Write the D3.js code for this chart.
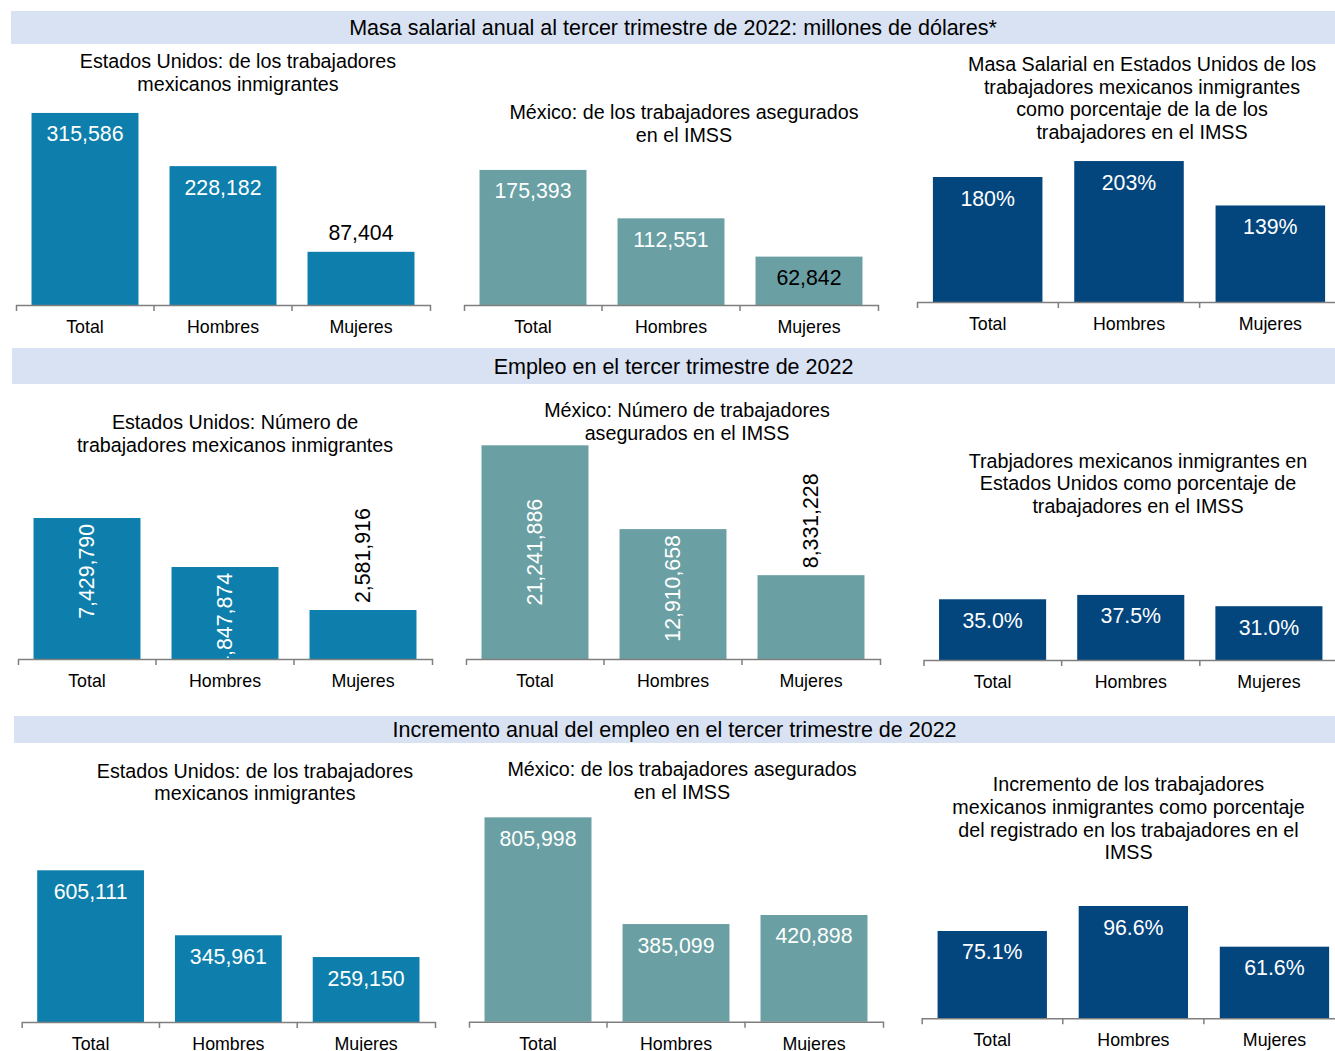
<!DOCTYPE html>
<html lang="es">
<head>
    <meta charset="utf-8">
    <title>Masa salarial y empleo - tercer trimestre 2022</title>
    <script src="https://cdnjs.cloudflare.com/ajax/libs/d3/7.8.5/d3.min.js"></script>
    <style>
        body { margin: 0; background: #fff; }
        svg { display: block; font-family: "Liberation Sans", Arial, sans-serif; }
        .banda text { font-size: 21.5px; fill: #000; }
        .titulo { font-size: 19.7px; fill: #000; }
        .eje path, .eje line { stroke: #7f7f7f; stroke-width: 1.5; }
        .eje text { font-size: 17.8px; fill: #000; }
        .etiqueta { font-size: 21.3px; }
    </style>
</head>
<body>
<div id="viz"></div>
<script>
    // datos
    const categorias = ["Total", "Hombres", "Mujeres"];

    const masaEU = [315586, 228182, 87404];
    const masaMX = [175393, 112551, 62842];
    const masaPct = [180, 203, 139];

    const empleoEU = [7429790, 4847874, 2581916];
    const empleoMX = [21241886, 12910658, 8331228];
    const empleoPct = [35.0, 37.5, 31.0];

    const incrEU = [605111, 345961, 259150];
    const incrMX = [805998, 385099, 420898];
    const incrPct = [75.1, 96.6, 61.6];

    const titulosSeccion = [
        "Masa salarial anual al tercer trimestre de 2022: millones de dólares*",
        "Empleo en el tercer trimestre de 2022",
        "Incremento anual del empleo en el tercer trimestre de 2022"
    ];

    const titulosPanel = [
        ["Estados Unidos: de los trabajadores", "mexicanos inmigrantes"],
        ["México: de los trabajadores asegurados", "en el IMSS"],
        ["Masa Salarial en Estados Unidos de los", "trabajadores mexicanos inmigrantes", "como porcentaje de la de los", "trabajadores en el IMSS"],
        ["Estados Unidos: Número de", "trabajadores mexicanos inmigrantes"],
        ["México: Número de trabajadores", "asegurados en el IMSS"],
        ["Trabjadores mexicanos inmigrantes en", "Estados Unidos como porcentaje de", "trabajadores en el IMSS"],
        ["Estados Unidos: de los trabajadores", "mexicanos inmigrantes"],
        ["México: de los trabajadores asegurados", "en el IMSS"],
        ["Incremento de los trabajadores", "mexicanos inmigrantes como porcentaje", "del registrado en los trabajadores en el", "IMSS"]
    ];

    var colorEU = "#0e7fac", colorMX = "#6a9fa3", colorPct = "#03467e";

    var fmtMiles = d3.format(","),
        fmtPct0 = d => d3.format(".0f")(d) + "%",
        fmtPct1 = d => d3.format(".1f")(d) + "%";

    // bandas de seccion
    var bandas = [
        {x: 11, y: 11, h: 33},
        {x: 12, y: 348, h: 36},
        {x: 14, y: 716, h: 27}
    ];

    // cada panel: eje x0-x1, base, tope del area, maximo del eje, titulo (cx, y primera linea)
    var paneles = [
        {vals: masaEU,  color: colorEU,  fmt: fmtMiles, x0: 16,  x1: 430,  base: 305,  top: 92,    max: 350000,   tx: 238,  ty: 61,  modo: ["in", "in", "out"]},
        {vals: masaMX,  color: colorMX,  fmt: fmtMiles, x0: 464, x1: 878,  base: 305,  top: 151,   max: 200000,   tx: 684,  ty: 112, modo: ["in", "in", "inOscuro"]},
        {vals: masaPct, color: colorPct, fmt: fmtPct0,  x0: 917, x1: 1341, base: 302,  top: 128.4, max: 250,      tx: 1142, ty: 64,  modo: ["in", "in", "in"]},
        {vals: empleoEU, color: colorEU, fmt: fmtMiles, x0: 18,  x1: 432,  base: 659,  top: 507.2, max: 8000000,  tx: 235,  ty: 422, modo: ["in", "in", "out"], vertical: true},
        {vals: empleoMX, color: colorMX, fmt: fmtMiles, x0: 466, x1: 880,  base: 659,  top: 407.5, max: 25000000, tx: 687,  ty: 410, modo: ["mid", "in", "out"], vertical: true},
        {vals: empleoPct, color: colorPct, fmt: fmtPct1, x0: 923.5, x1: 1338, base: 660, top: 590.6, max: 40,      tx: 1138, ty: 460.7, modo: ["in", "in", "in"]},
        {vals: incrEU,  color: colorEU,  fmt: fmtMiles, x0: 21.7, x1: 435, base: 1022, top: 846.5, max: 700000,   tx: 255,  ty: 770.7, modo: ["in", "in", "in"]},
        {vals: incrMX,  color: colorMX,  fmt: fmtMiles, x0: 469, x1: 883,  base: 1021.7, top: 793.5, max: 900000, tx: 682,  ty: 769, modo: ["in", "in", "in"]},
        {vals: incrPct, color: colorPct, fmt: fmtPct1,  x0: 921.7, x1: 1345, base: 1018.3, top: 878.8, max: 120,  tx: 1128.5, ty: 784.3, modo: ["in", "in", "in"]}
    ];

    var svg = d3.select("#viz")
        .append("svg")
        .attr("width", 1335)
        .attr("height", 1051);

    var defs = svg.append("defs");

    // bandas azules con titulo
    bandas.forEach((b, i) => {
        var g = svg.append("g").attr("class", "banda");
        g.append("rect")
            .attr("x", b.x)
            .attr("y", b.y)
            .attr("width", 1335 - b.x)
            .attr("height", b.h)
            .style("fill", "#d9e2f3");
        g.append("text")
            .attr("x", (b.x + 1335) / 2)
            .attr("y", b.y + b.h / 2)
            .attr("dy", "0.35em")
            .style("text-anchor", "middle")
            .text(titulosSeccion[i]);
    });

    paneles.forEach((p, i) => {
        var g = svg.append("g").attr("class", "panel");

        var x = d3.scaleBand()
            .domain(categorias)
            .range([p.x0, p.x1])
            .paddingInner(0.225)
            .paddingOuter(0.1125);

        var y = d3.scaleLinear()
            .domain([0, p.max])
            .range([p.base, p.top]);

        var datos = categorias.map((c, j) => ({cat: c, val: p.vals[j], modo: p.modo[j]}));

        // titulo
        g.append("text")
            .attr("class", "titulo")
            .style("text-anchor", "middle")
            .selectAll("tspan")
            .data(titulosPanel[i])
            .enter()
            .append("tspan")
            .attr("x", p.tx)
            .attr("y", (d, k) => p.ty + k * 22.7)
            .attr("dy", "0.35em")
            .text(d => d);

        g.selectAll("rect.barra")
            .data(datos)
            .enter()
            .append("rect")
            .attr("class", "barra")
            .attr("x", d => x(d.cat))
            .attr("y", d => y(d.val))
            .attr("width", x.bandwidth())
            .attr("height", d => y(0) - y(d.val))
            .style("fill", p.color);

        // eje con marcas entre categorias
        var eje = g.append("g")
            .attr("class", "eje")
            .attr("transform", `translate(0,${p.base})`)
            .call(d3.axisBottom(x).tickSize(0).tickSizeOuter(6));
        eje.selectAll(".tick text")
            .attr("y", 28)
            .attr("dy", 0);
        eje.selectAll("line.sep")
            .data(categorias.slice(1))
            .enter()
            .append("line")
            .attr("class", "sep")
            .attr("x1", d => x(d) - x.step() * x.paddingInner() / 2)
            .attr("x2", d => x(d) - x.step() * x.paddingInner() / 2)
            .attr("y1", 0)
            .attr("y2", 6);

        // etiquetas de valor, recortadas en la base
        defs.append("clipPath")
            .attr("id", "clip" + i)
            .append("rect")
            .attr("x", 0)
            .attr("y", 0)
            .attr("width", 1335)
            .attr("height", p.base - 1);

        var etiquetas = g.append("g")
            .attr("clip-path", `url(#clip${i})`)
            .selectAll("text")
            .data(datos)
            .enter()
            .append("text")
            .attr("class", "etiqueta")
            .style("fill", d => d.modo == "in" || d.modo == "mid" ? "#fff" : "#000")
            .text(d => p.fmt(d.val));

        if (p.vertical) {
            etiquetas
                .attr("transform", d => {
                    var cx = x(d.cat) + x.bandwidth() / 2;
                    var cy = d.modo == "out" ? y(d.val) - 7
                           : d.modo == "mid" ? (y(d.val) + y(0)) / 2
                           : y(d.val) + 6;
                    return `translate(${cx},${cy}) rotate(-90)`;
                })
                .attr("dy", "0.35em")
                .style("text-anchor", d => d.modo == "out" ? "start" : d.modo == "mid" ? "middle" : "end");
        } else {
            etiquetas
                .attr("x", d => x(d.cat) + x.bandwidth() / 2)
                .attr("y", d => d.modo == "out" ? y(d.val) - 12 : y(d.val) + 28.5)
                .style("text-anchor", "middle");
        }
    });
</script>
</body>
</html>
